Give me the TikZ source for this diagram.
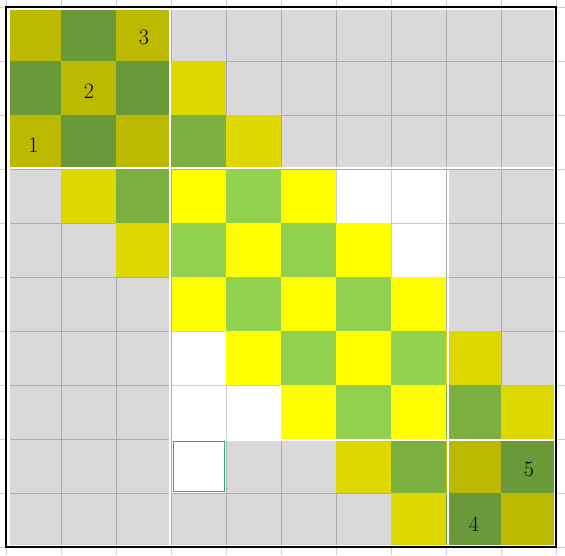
\documentclass[tikz,border=0pt]{standalone}
\definecolor{ol}{RGB}{187,185,0}
\definecolor{dg}{RGB}{106,153,58}
\definecolor{yd}{RGB}{221,217,0}
\definecolor{mg}{RGB}{124,177,66}
\definecolor{yb}{RGB}{255,255,0}
\definecolor{lg}{RGB}{146,208,80}
\definecolor{cg}{RGB}{217,217,217}
\definecolor{gl}{RGB}{168,172,186}
\definecolor{bgl}{RGB}{200,206,222}
\definecolor{tl}{RGB}{40,172,122}
\tikzset{
  c1/.style={fill=cg,draw=gl,line width=0.9pt},
  c2/.style={fill=ol},
  c3/.style={fill=dg},
  c4/.style={fill=yd},
  c5/.style={fill=mg},
  c6/.style={fill=yb},
  c7/.style={fill=lg},
  sep/.style={white,line width=2pt},
  num/.style={font=\fontsize{22}{22}\selectfont,inner sep=0pt}
}
\begin{document}
\begin{tikzpicture}[x=1pt,y=-1pt]
\useasboundingbox (0,0) rectangle (565,555);
\fill[white] (0,0) rectangle (565,555);
% background grid
\foreach \k in {0,...,10} { \draw[bgl,line width=1pt] ({6.3+55*\k},0) -- ({6.3+55*\k},555); }
\foreach \r in {0,...,10} { \draw[bgl,line width=1pt] (0,{7+54*\r}) -- (565,{7+54*\r}); }
% cells: 0 white, 1 gray, 2 olive, 3 dark green, 4 dark yellow, 5 mid green, 6 yellow, 7 light green
\def\cellrows{0/{2,3,2,1,1,1,1,1,1,1},1/{3,2,3,4,1,1,1,1,1,1},2/{2,3,2,5,4,1,1,1,1,1},3/{1,4,5,6,7,6,0,0,1,1},4/{1,1,4,7,6,7,6,0,1,1},5/{1,1,1,6,7,6,7,6,1,1},6/{1,1,1,0,6,7,6,7,4,1},7/{1,1,1,0,0,6,7,6,5,4},8/{1,1,1,0,1,1,4,5,2,3},9/{1,1,1,1,1,1,1,4,3,2}}
\foreach \r/\row in \cellrows {
  \foreach \v [count=\c from 0] in \row {
    \ifnum\v=1
      \path[c1] ({6.3+55*\c},{7+54*\r}) rectangle ({6.3+55*(\c+1)},{7+54*(\r+1)});
    \fi
  }
}
\foreach \r/\row in \cellrows {
  \foreach \v [count=\c from 0] in \row {
    \ifnum\v>1
      \path[c\v] ({6.3+55*\c},{7+54*\r}) rectangle ({6.3+55*(\c+1)},{7+54*(\r+1)});
    \fi
  }
}
% block separators
\draw[sep] (170,7) -- (170,547);
\draw[sep] (6,168) -- (556,168);
\draw[sep] (447.7,168) -- (447.7,547);
\draw[sep] (171.3,440.3) -- (556,440.3);
\draw[gl,line width=1pt] (171.3,169.3) -- (171.3,547);
\draw[gl,line width=1pt] (171.3,169.3) -- (556,169.3);
% selected cell
\draw[tl,line width=1pt] (173.5,441.5) rectangle (224.5,491.3);
% outer frame
\draw[white,line width=3pt] (8.3,8.5) rectangle (555,546);
\draw[black,line width=2pt] (6.3,7) rectangle (556.3,547);
% numbers
\node[num] (n1) at (33.3,145) {1};
\node[num] (n2) at (88.8,91) {2};
\node[num] (n3) at (143.8,37) {3};
\node[num] (n4) at (473.8,524) {4};
\node[num] (n5) at (528.8,469.5) {5};
\end{tikzpicture}
\end{document}
